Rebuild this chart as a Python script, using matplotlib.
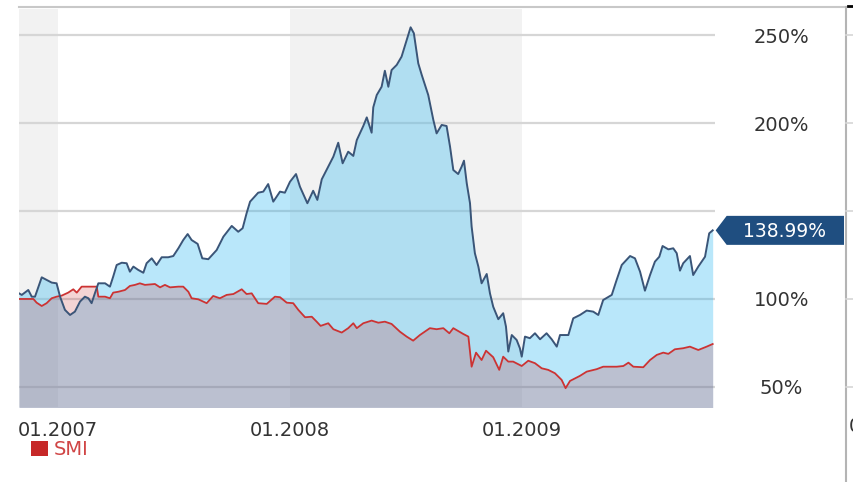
import matplotlib
matplotlib.use('Agg')
from matplotlib import pyplot as plt
from matplotlib.patches import Patch, Polygon
from matplotlib.lines import Line2D
from matplotlib.transforms import Bbox

# time as decimal years, values in % of start
stock_t = [2006.832, 2006.844, 2006.872, 2006.887, 2006.901, 2006.930, 2006.951, 2006.973, 2006.994,
           2007.009, 2007.030, 2007.052, 2007.073, 2007.095, 2007.116, 2007.131, 2007.145, 2007.159,
           2007.174, 2007.203, 2007.224, 2007.238, 2007.253, 2007.275, 2007.296, 2007.310, 2007.325,
           2007.346, 2007.368, 2007.382, 2007.404, 2007.425, 2007.447, 2007.475, 2007.497, 2007.519,
           2007.540, 2007.559, 2007.576, 2007.602, 2007.622, 2007.648, 2007.684, 2007.713, 2007.749,
           2007.777, 2007.796, 2007.813, 2007.828, 2007.863, 2007.885, 2007.906, 2007.928, 2007.957,
           2007.978, 2008.000, 2008.026, 2008.043, 2008.075, 2008.100, 2008.118, 2008.137, 2008.165,
           2008.187, 2008.208, 2008.227, 2008.251, 2008.273, 2008.288, 2008.316, 2008.331, 2008.352,
           2008.359, 2008.374, 2008.395, 2008.409, 2008.424, 2008.438, 2008.460, 2008.481, 2008.503,
           2008.520, 2008.534, 2008.553, 2008.568, 2008.596, 2008.618, 2008.632, 2008.654, 2008.675,
           2008.690, 2008.704, 2008.725, 2008.740, 2008.750, 2008.762, 2008.776, 2008.783, 2008.797,
           2008.812, 2008.826, 2008.848, 2008.862, 2008.876, 2008.898, 2008.919, 2008.931, 2008.941,
           2008.956, 2008.977, 2008.991, 2008.999, 2009.013, 2009.034, 2009.056, 2009.078, 2009.106,
           2009.128, 2009.150, 2009.164, 2009.200, 2009.221, 2009.250, 2009.279, 2009.307, 2009.329,
           2009.350, 2009.387, 2009.408, 2009.430, 2009.466, 2009.487, 2009.509, 2009.530, 2009.552,
           2009.573, 2009.592, 2009.606, 2009.631, 2009.652, 2009.667, 2009.681, 2009.695, 2009.724,
           2009.738, 2009.760, 2009.789, 2009.807, 2009.822]
stock = [103.2, 102.3, 105.1, 101.3, 101.3, 112.3, 110.8, 109.3, 108.9,
         101.3, 93.8, 90.9, 92.8, 98.5, 101.3, 100.4, 97.6, 103.2,
         108.9, 108.9, 107.0, 112.7, 119.3, 120.6, 120.3, 115.5, 118.4,
         116.5, 114.9, 120.3, 123.1, 119.3, 123.7, 123.7, 124.4, 128.8,
         133.5, 136.9, 133.5, 131.3, 123.1, 122.6, 127.8, 135.4, 141.5,
         138.2, 140.2, 148.7, 155.3, 160.4, 161.0, 165.3, 155.3, 161.0,
         160.4, 166.6, 171.0, 163.8, 154.4, 161.5, 156.3, 168.0, 175.2,
         180.9, 188.8, 177.1, 183.7, 181.3, 190.3, 198.3, 203.2, 194.5,
         208.9, 215.9, 220.6, 229.7, 220.6, 230.1, 233.0, 237.7, 247.2,
         254.4, 251.0, 233.9, 227.3, 215.9, 201.7, 194.1, 198.9, 198.3,
         186.5, 173.3, 171.0, 175.2, 178.6, 165.7, 154.4, 141.1, 126.0,
         118.4, 108.9, 114.2, 103.2, 95.6, 88.5, 91.9, 84.3, 70.1,
         79.5, 76.7, 72.0, 67.2, 78.6, 77.7, 80.5, 77.1, 80.5,
         77.1, 72.9, 79.5, 79.5, 89.0, 90.9, 93.4, 92.8, 90.9,
         99.4, 102.3, 110.8, 119.3, 124.4, 123.1, 115.5, 104.7, 113.6,
         121.2, 124.0, 130.1, 128.2, 128.8, 126.0, 116.1, 120.3, 124.4,
         113.6, 118.4, 124.0, 137.3, 138.99]

smi_t = [2006.832, 2006.894, 2006.908, 2006.930, 2006.951, 2006.973, 2006.994, 2007.016, 2007.044,
         2007.066, 2007.081, 2007.102, 2007.167, 2007.174, 2007.203, 2007.224, 2007.238, 2007.260,
         2007.289, 2007.310, 2007.332, 2007.353, 2007.375, 2007.418, 2007.440, 2007.461, 2007.483,
         2007.519, 2007.540, 2007.562, 2007.576, 2007.605, 2007.641, 2007.669, 2007.698, 2007.727,
         2007.756, 2007.792, 2007.813, 2007.835, 2007.863, 2007.900, 2007.935, 2007.957, 2007.986,
         2008.014, 2008.036, 2008.065, 2008.094, 2008.115, 2008.132, 2008.165, 2008.187, 2008.223,
         2008.251, 2008.273, 2008.288, 2008.316, 2008.352, 2008.381, 2008.409, 2008.438, 2008.474,
         2008.503, 2008.531, 2008.560, 2008.603, 2008.632, 2008.661, 2008.687, 2008.704, 2008.747,
         2008.769, 2008.783, 2008.802, 2008.826, 2008.845, 2008.876, 2008.902, 2008.919, 2008.941,
         2008.962, 2008.999, 2009.027, 2009.056, 2009.085, 2009.113, 2009.142, 2009.171, 2009.188,
         2009.207, 2009.250, 2009.279, 2009.322, 2009.350, 2009.408, 2009.437, 2009.459, 2009.480,
         2009.523, 2009.552, 2009.581, 2009.609, 2009.631, 2009.659, 2009.695, 2009.724, 2009.760,
         2009.796, 2009.822]
smi = [100.0, 100.0, 97.9, 96.0, 97.6, 100.4, 101.3, 101.9, 103.6,
       105.5, 103.6, 107.0, 107.0, 101.3, 101.3, 100.4, 103.6, 104.1,
       105.1, 107.4, 108.0, 108.9, 108.0, 108.5, 106.6, 108.0, 106.6,
       107.0, 107.0, 104.1, 100.4, 99.8, 97.6, 101.7, 100.4, 102.3,
       102.8, 105.5, 102.8, 103.2, 97.6, 97.2, 101.3, 101.0, 97.9,
       97.6, 93.8, 89.6, 89.9, 87.1, 84.7, 86.2, 82.8, 80.9,
       83.4, 86.2, 83.4, 86.2, 87.7, 86.5, 87.1, 85.8, 81.4,
       78.6, 76.3, 79.5, 83.4, 82.8, 83.4, 80.5, 83.4, 80.1,
       78.6, 61.5, 69.5, 65.3, 70.6, 66.9, 59.7, 67.2, 64.4,
       64.4, 61.9, 64.9, 63.5, 60.6, 59.7, 57.8, 54.0, 49.3,
       53.4, 56.3, 58.7, 60.1, 61.5, 61.5, 61.9, 63.8, 61.5,
       61.2, 65.3, 68.2, 69.5, 68.8, 71.4, 72.0, 72.9, 71.0,
       72.9, 74.4]

year_ticks = [2007, 2008, 2009]
year_labels = ['01.2007', '01.2008', '01.2009']
pct_ticks = [50, 100, 150, 200, 250]
pct_labels = ['50%', '100%', '', '200%', '250%']
last_label = '138.99%'

W, H = 854, 482
fig = plt.figure(figsize=(W / 100, H / 100), dpi=100)
ax = fig.add_axes([19 / W, (H - 407) / H, (715 - 19) / W, (407 - 9) / H])
ax.set_xlim(2006.832, 2009.832)
ax.set_ylim(38.6, 264.8)

# alternating year bands
ax.axvspan(2006.832, 2007, color='#f2f2f2', lw=0, zorder=0.1)
ax.axvspan(2008, 2009, color='#f2f2f2', lw=0, zorder=0.1)

ax.fill_between(stock_t, stock, 0, color='#1ab0f0', alpha=0.3, lw=0, zorder=1)
ax.fill_between(smi_t, smi, 0, color='#c8282c', alpha=0.2, lw=0, zorder=1.1)
ax.plot(smi_t, smi, color='#cc3333', lw=1.3, zorder=2)
ax.plot(stock_t, stock, color='#3a5578', lw=1.4, zorder=2.1)

ax.grid(axis='y', color='#d6d6d6', lw=1.6)
ax.grid(axis='x', visible=False)
ax.set_axisbelow(True)
for s in ax.spines.values():
    s.set_visible(False)

ax.yaxis.tick_right()
ax.set_yticks(pct_ticks, pct_labels)
ax.tick_params(axis='y', length=0, pad=48, labelsize=14, labelcolor='#333333')
plt.setp(ax.get_yticklabels(), ha='center')
ax.set_xticks(year_ticks, year_labels)
ax.tick_params(axis='x', length=0, pad=10, labelsize=14, labelcolor='#333333')
lbl = ax.get_xticklabels()[0]
lbl.set_clip_box(Bbox([[19, 0], [W, H]]))
lbl.set_clip_on(True)

# value flag at the last point
px, py = ax.transData.transform((stock_t[-1], stock[-1]))
tip = px + 3
flag = [(tip, py), (tip + 11, py + 14.5), (844, py + 14.5), (844, py - 14.5), (tip + 11, py - 14.5)]
fig.patches.append(Polygon([(x / W, y / H) for x, y in flag], closed=True, transform=fig.transFigure,
                           facecolor='#1f4e80', edgecolor='none'))
fig.text(785 / W, (py - 1) / H, last_label, color='white', fontsize=13.5, ha='center', va='center')

# frame bits
fig.add_artist(Line2D([19 / W, 846 / W], [1 - 7 / H, 1 - 7 / H], color='#c8c8c8', lw=1.5))
fig.add_artist(Line2D([846 / W, 846 / W], [0, 1 - 7 / H], color='#b4b4b4', lw=1.5))
fig.add_artist(Line2D([848 / W, 1], [1 - 6 / H, 1 - 6 / H], color='black', lw=2))
for v in pct_ticks:
    _, gy = ax.transData.transform((2008, v))
    fig.add_artist(Line2D([846 / W, 1], [gy / H, gy / H], color='#d6d6d6', lw=1.2))
fig.text(849 / W, 1 - 427 / H, '0', fontsize=14, color='#333333', ha='left', va='center')

fig.legend(handles=[Patch(facecolor='#c62828')], labels=['SMI'], loc='upper left',
           bbox_to_anchor=(31 / W, 1 - 440 / H), frameon=False, fontsize=14,
           handlelength=0.85, handleheight=0.85, handletextpad=0.3,
           borderpad=0, borderaxespad=0, labelcolor='#d04545')

fig.savefig('out.png', dpi=100)
